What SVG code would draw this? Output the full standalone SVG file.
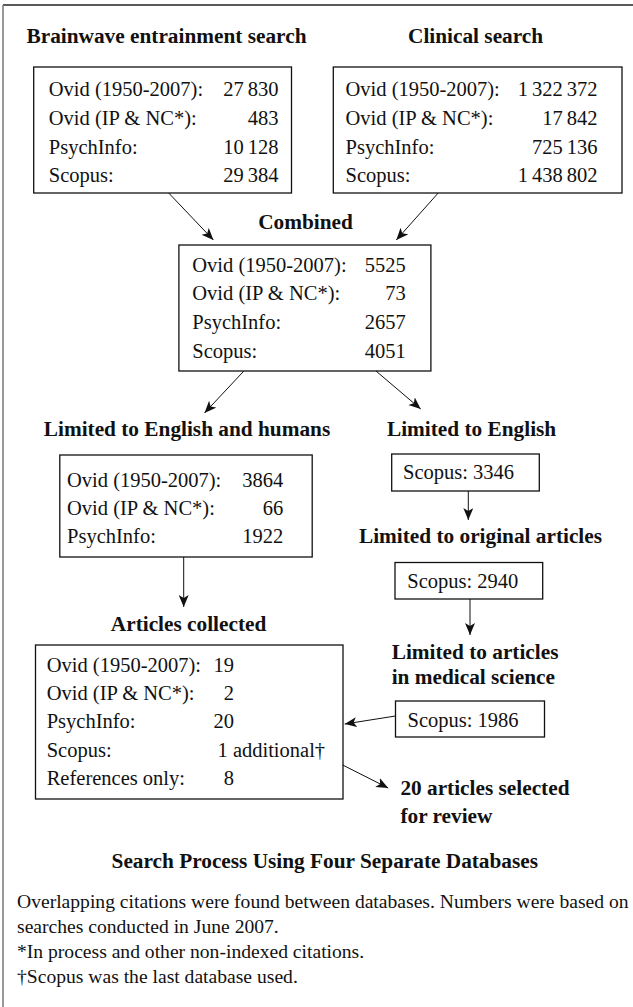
<svg xmlns="http://www.w3.org/2000/svg" width="633" height="1007" viewBox="0 0 633 1007">
<style>
.t{font-family:"Liberation Serif","Times New Roman",serif;font-size:21.3px;font-weight:bold;fill:#111}
.b{font-family:"Liberation Serif","Times New Roman",serif;font-size:20.5px;fill:#111}
.f{font-family:"Liberation Serif","Times New Roman",serif;font-size:19.6px;fill:#111}
.e{text-anchor:end}
.m{text-anchor:middle}
.box{fill:#fff;stroke:#111;stroke-width:1.3}
.c{stroke:#111;stroke-width:1;fill:none}
</style>
<defs>
<marker id="ah" markerUnits="userSpaceOnUse" markerWidth="13" markerHeight="11" refX="12" refY="5" orient="auto">
<path d="M0,0 L12,5 L0,10 L3,5 z" fill="#111"/>
</marker>
</defs>
<rect x="0" y="0" width="633" height="1007" fill="#fff"/>
<line x1="3" y1="5" x2="633" y2="5" stroke="#222" stroke-width="1.5"/>
<line x1="3" y1="5" x2="3" y2="1007" stroke="#777" stroke-width="1.5"/>

<g id="titles">
<text class="t m" x="166.5" y="43">Brainwave entrainment search</text>
<text class="t m" x="475.6" y="43">Clinical search</text>
<text class="t m" x="305.5" y="229">Combined</text>
<text class="t m" x="187" y="436">Limited to English and humans</text>
<text class="t m" x="471.6" y="436">Limited to English</text>
<text class="t m" x="480.5" y="543">Limited to original articles</text>
<text class="t m" x="188.6" y="631">Articles collected</text>
<text class="t" x="391.7" y="659">Limited to articles</text>
<text class="t" x="391.7" y="684">in medical science</text>
</g>

<g id="brainwave">
<rect class="box" x="33.7" y="67" width="257.8" height="126"/>
<text class="b" x="48.8" y="96">Ovid (1950-2007):</text><text class="b e" x="278.5" y="96">27&#8201;830</text>
<text class="b" x="48.8" y="125">Ovid (IP &amp; NC*):</text><text class="b e" x="278.5" y="125">483</text>
<text class="b" x="48.8" y="153.5">PsychInfo:</text><text class="b e" x="278.5" y="153.5">10&#8201;128</text>
<text class="b" x="48.8" y="181.5">Scopus:</text><text class="b e" x="278.5" y="181.5">29&#8201;384</text>
</g>

<g id="clinical">
<rect class="box" x="333.3" y="67" width="288.7" height="126"/>
<text class="b" x="345.5" y="96">Ovid (1950-2007):</text><text class="b e" x="597.6" y="96">1&#8201;322&#8201;372</text>
<text class="b" x="345.5" y="125">Ovid (IP &amp; NC*):</text><text class="b e" x="597.6" y="125">17&#8201;842</text>
<text class="b" x="345.5" y="153.5">PsychInfo:</text><text class="b e" x="597.6" y="153.5">725&#8201;136</text>
<text class="b" x="345.5" y="181.5">Scopus:</text><text class="b e" x="597.6" y="181.5">1&#8201;438&#8201;802</text>
</g>

<g id="combined">
<rect class="box" x="178.9" y="245" width="252" height="126"/>
<text class="b" x="192.3" y="272">Ovid (1950-2007):</text><text class="b e" x="405.7" y="272">5525</text>
<text class="b" x="192.3" y="300">Ovid (IP &amp; NC*):</text><text class="b e" x="405.7" y="300">73</text>
<text class="b" x="192.3" y="329">PsychInfo:</text><text class="b e" x="405.7" y="329">2657</text>
<text class="b" x="192.3" y="358">Scopus:</text><text class="b e" x="405.7" y="358">4051</text>
</g>

<g id="english-humans">
<rect class="box" x="59.8" y="455" width="252.4" height="102"/>
<text class="b" x="67" y="487">Ovid (1950-2007):</text><text class="b e" x="283.3" y="487">3864</text>
<text class="b" x="67" y="515">Ovid (IP &amp; NC*):</text><text class="b e" x="283.3" y="515">66</text>
<text class="b" x="67" y="543">PsychInfo:</text><text class="b e" x="283.3" y="543">1922</text>
</g>

<g id="english">
<rect class="box" x="391.7" y="454" width="147.6" height="37"/>
<text class="b" x="403" y="478.5">Scopus: 3346</text>
</g>

<g id="original">
<rect class="box" x="395" y="562.5" width="147.7" height="36.5"/>
<text class="b" x="407.3" y="587.5">Scopus: 2940</text>
</g>

<g id="medical">
<rect class="box" x="395.5" y="701" width="149" height="36"/>
<text class="b" x="407.5" y="726.5">Scopus: 1986</text>
</g>

<g id="collected">
<rect class="box" x="35.5" y="645" width="307.5" height="154"/>
<text class="b" x="46.7" y="672">Ovid (1950-2007):</text><text class="b e" x="234" y="672">19</text>
<text class="b" x="46.7" y="700">Ovid (IP &amp; NC*):</text><text class="b e" x="234" y="700">2</text>
<text class="b" x="46.7" y="728">PsychInfo:</text><text class="b e" x="234" y="728">20</text>
<text class="b" x="46.7" y="757">Scopus:</text><text class="b" x="217.5" y="757">1 additional†</text>
<text class="b" x="46.7" y="785">References only:</text><text class="b e" x="234" y="785">8</text>
</g>

<g id="selected">
<text class="t" x="400.4" y="795">20 articles selected</text>
<text class="t" x="400.4" y="823">for review</text>
</g>

<g id="connectors">
<line class="c" x1="168.7" y1="193" x2="213.4" y2="240" marker-end="url(#ah)"/>
<line class="c" x1="438.2" y1="193" x2="396.3" y2="240" marker-end="url(#ah)"/>
<line class="c" x1="243.9" y1="371" x2="204.5" y2="413" marker-end="url(#ah)"/>
<line class="c" x1="376" y1="371" x2="420.7" y2="409" marker-end="url(#ah)"/>
<line class="c" x1="468.3" y1="491" x2="468.3" y2="520" marker-end="url(#ah)"/>
<line class="c" x1="183.7" y1="557" x2="183.7" y2="607" marker-end="url(#ah)"/>
<line class="c" x1="470" y1="599" x2="470" y2="635" marker-end="url(#ah)"/>
<line class="c" x1="395.5" y1="716" x2="344.7" y2="724" marker-end="url(#ah)"/>
<line class="c" x1="342.7" y1="765" x2="388.2" y2="788" marker-end="url(#ah)"/>
</g>

<g id="caption">
<text class="t m" x="324.8" y="868">Search Process Using Four Separate Databases</text>
<text class="f" x="17" y="908">Overlapping citations were found between databases. Numbers were based on</text>
<text class="f" x="17" y="933">searches conducted in June 2007.</text>
<text class="f" x="17" y="958">*In process and other non-indexed citations.</text>
<text class="f" x="17" y="983">†Scopus was the last database used.</text>
</g>
</svg>
